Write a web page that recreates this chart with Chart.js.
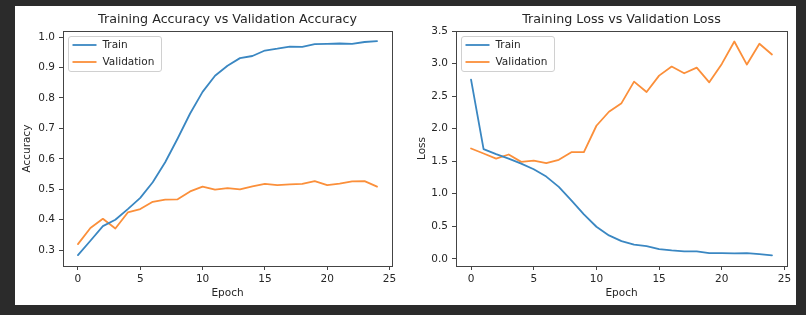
<!DOCTYPE html>
<html><head><meta charset="utf-8">
<script src="https://cdn.jsdelivr.net/npm/chart.js@4/dist/chart.umd.min.js"></script>
<style>
html,body{margin:0;padding:0;background:#2b2b2b;width:806px;height:315px;overflow:hidden}
#fig{position:absolute;left:15px;top:6px;width:781px;height:299px;background:#fff}
#c1{position:absolute;left:0;top:0}
#c2{position:absolute;left:388px;top:0}
</style></head><body>
<div id="fig"><canvas id="c1" width="388" height="299"></canvas><canvas id="c2" width="393" height="299"></canvas></div>
<script>
// ---- data ----
const epochs = [0,1,2,3,4,5,6,7,8,9,10,11,12,13,14,15,16,17,18,19,20,21,22,23,24];
const accTrain = [0.284,0.331,0.379,0.400,0.435,0.472,0.523,0.589,0.667,0.749,0.820,0.873,0.906,0.931,0.938,0.956,0.962,0.969,0.968,0.977,0.978,0.979,0.978,0.984,0.987];
const accVal   = [0.320,0.373,0.403,0.371,0.424,0.435,0.459,0.466,0.467,0.493,0.509,0.499,0.504,0.500,0.510,0.518,0.514,0.516,0.518,0.527,0.514,0.519,0.526,0.527,0.509];
const lossTrain = [2.753,1.686,1.608,1.541,1.464,1.377,1.264,1.105,0.899,0.684,0.493,0.360,0.273,0.220,0.196,0.149,0.129,0.114,0.114,0.088,0.088,0.083,0.088,0.072,0.052];
const lossVal   = [1.695,1.618,1.541,1.603,1.490,1.510,1.470,1.521,1.639,1.639,2.045,2.260,2.392,2.723,2.563,2.815,2.954,2.851,2.938,2.712,2.995,3.339,2.985,3.304,3.139];
const epochTicks = [0,5,10,15,20,25];
const accTicks = [0.3,0.4,0.5,0.6,0.7,0.8,0.9,1.0];
const lossTicks = [0.0,0.5,1.0,1.5,2.0,2.5,3.0,3.5];
const seriesNames = ['Train','Validation'];
const titles = ['Training Accuracy vs Validation Accuracy','Training Loss vs Validation Loss'];

const BLUE = '#3a87c2', ORANGE = '#fb8f3a';
const INK = '#262626', SPINE = '#444';
Chart.defaults.font.family = 'DejaVu Sans';
Chart.defaults.color = INK;

const framePlugin = {
  id: 'frame',
  afterDatasetsDraw(chart) {
    const {ctx, chartArea: ca} = chart;
    ctx.save();
    ctx.strokeStyle = SPINE; ctx.lineWidth = 1;
    const l = Math.floor(ca.left) + 0.5, t = Math.floor(ca.top) + 0.5;
    const r = Math.floor(ca.right) + 0.5, b = Math.floor(ca.bottom) + 0.5;
    ctx.strokeRect(l, t, r - l, b - t);
    // legend box (matplotlib style)
    const x0 = l + 5, y0 = t + 5, w = 93, h = 35;
    ctx.beginPath();
    ctx.roundRect(x0, y0, w, h, 2.5);
    ctx.fillStyle = 'rgba(255,255,255,0.85)';
    ctx.fill();
    ctx.strokeStyle = '#d0d0d0';
    ctx.stroke();
    ctx.font = '10.5px "DejaVu Sans"';
    ctx.textBaseline = 'middle';
    ctx.textAlign = 'left';
    chart.data.datasets.forEach((ds, i) => {
      const yc = y0 + 8.5 + i * 17;
      ctx.beginPath();
      ctx.strokeStyle = ds.borderColor; ctx.lineWidth = 1.8;
      ctx.moveTo(x0 + 4, yc); ctx.lineTo(x0 + 28, yc);
      ctx.stroke();
      ctx.fillStyle = INK;
      ctx.fillText(ds.label, x0 + 34, yc + 0.5);
    });
    ctx.restore();
  }
};

function makeChart(id, title, train, val, yMin, yMax, yTicks, yTitle, yWidth, yTitlePad, rightPad) {
  const toPts = arr => arr.map((v, i) => ({x: epochs[i], y: v}));
  return new Chart(document.getElementById(id), {
    type: 'line',
    data: {
      datasets: [
        {label: seriesNames[0], data: toPts(train), borderColor: BLUE, backgroundColor: BLUE},
        {label: seriesNames[1], data: toPts(val), borderColor: ORANGE, backgroundColor: ORANGE}
      ]
    },
    options: {
      responsive: false,
      animation: false,
      layout: {padding: {left: 0, right: rightPad, top: 0, bottom: 0}},
      elements: {
        point: {radius: 0},
        line: {borderWidth: 1.8, tension: 0, borderJoinStyle: 'round', borderCapStyle: 'round', fill: false}
      },
      plugins: {
        legend: {display: false},
        tooltip: {enabled: false},
        title: {
          display: true, text: title, fullSize: false, color: INK,
          font: {size: 12.7, weight: 'normal'},
          padding: {top: 6.4, bottom: 3.4}
        }
      },
      scales: {
        x: {
          type: 'linear', min: -1.2, max: 25.2,
          afterFit(s) { s.height = 39; },
          afterBuildTicks(s) { s.ticks = epochTicks.map(v => ({value: v})); },
          ticks: {callback: v => String(v), padding: 3, maxRotation: 0, autoSkip: false, font: {size: 10.5}, color: INK},
          grid: {drawOnChartArea: false, drawTicks: true, tickLength: 4, color: SPINE},
          border: {display: false},
          title: {display: true, text: 'Epoch', color: INK, font: {size: 10.5}, padding: {top: 0, bottom: 5.7}}
        },
        y: {
          type: 'linear', min: yMin, max: yMax,
          afterFit(s) { s.width = yWidth; },
          afterBuildTicks(s) { s.ticks = yTicks.map(v => ({value: v})); },
          ticks: {callback: v => Number(v).toFixed(1), padding: 4, autoSkip: false, font: {size: 10.5}, color: INK},
          grid: {drawOnChartArea: false, drawTicks: true, tickLength: 4, color: SPINE},
          border: {display: false},
          title: {display: true, text: yTitle, color: INK, font: {size: 10.5}, padding: {top: yTitlePad, bottom: 0}}
        }
      }
    },
    plugins: [framePlugin]
  });
}

makeChart('c1', titles[0], accTrain, accVal, 0.248, 1.020, accTicks, 'Accuracy', 48, 5.7, 11);
makeChart('c2', titles[1], lossTrain, lossVal, -0.11, 3.5, lossTicks, 'Loss', 53, 12.7, 9);
</script>
</body></html>
